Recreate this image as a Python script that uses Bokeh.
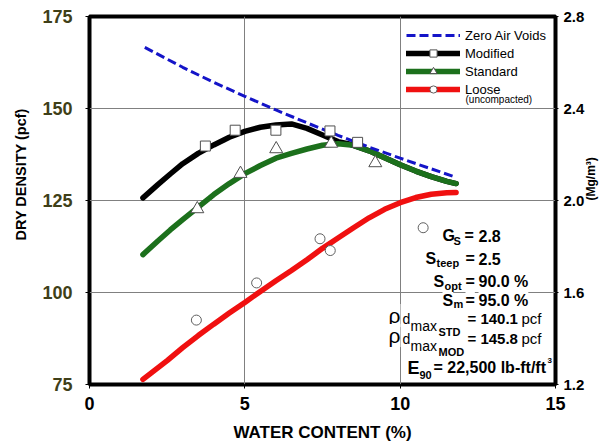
from bokeh.plotting import figure
from bokeh.models import (Range1d, LinearAxis, FixedTicker, Legend, LegendItem,
                          Label, PrintfTickFormatter)
from bokeh.embed import file_html
from bokeh.resources import INLINE
from math import pi

# ---------------- data ----------------
zav_w = [1.78, 3.0, 4.0, 5.0, 6.0, 7.0, 8.0, 9.0, 10.0, 11.0, 11.8]
zav_d = [166.6, 161.2, 157.1, 153.3, 149.6, 146.1, 142.7, 139.5, 136.5, 133.6, 131.3]

mod_w = [1.72, 2.2, 2.6, 3.0, 3.5, 4.0, 4.5, 5.0, 5.5, 6.0, 6.5, 7.0, 7.5, 8.0, 8.35,
         9.0, 9.5, 10.0, 10.5, 11.0, 11.5, 11.8]
mod_d = [125.7, 129.3, 132.2, 135.0, 137.8, 140.1, 142.2, 143.8, 144.9, 145.5, 145.8,
         144.6, 142.8, 141.0, 140.4, 138.5, 136.6, 134.7, 133.0, 131.5, 130.2, 129.6]

std_w = [1.72, 2.2, 2.6, 3.0, 3.5, 4.0, 4.5, 5.0, 5.5, 6.0, 6.5, 7.0, 7.5, 8.0, 8.5,
         9.0, 9.5, 10.0, 10.5, 11.0, 11.5, 11.8]
std_d = [110.3, 114.0, 117.0, 119.8, 123.2, 126.6, 129.6, 132.3, 134.5, 136.5, 137.8,
         139.0, 140.0, 140.4, 140.0, 138.5, 136.6, 134.7, 133.0, 131.5, 130.2, 129.6]

loose_w = [1.72, 2.5, 3.0, 3.5, 4.0, 4.5, 5.0, 5.5, 6.0, 6.5, 7.0, 7.5, 8.0, 8.5, 9.0,
           9.5, 10.0, 10.5, 11.0, 11.5, 11.8]
loose_d = [76.4, 81.5, 85.0, 88.3, 91.4, 94.4, 97.3, 100.3, 103.2, 106.0, 108.9, 112.0,
           114.8, 117.6, 120.3, 122.6, 124.4, 125.8, 126.7, 127.1, 127.2]

mod_pts_w = [3.73, 4.69, 6.0, 7.74, 8.63]
mod_pts_d = [139.8, 144.1, 144.1, 143.9, 140.8]

std_pts_w = [3.47, 4.86, 6.01, 7.78, 9.2]
std_pts_d = [122.7, 132.3, 139.0, 140.5, 135.2]

loose_pts_w = [3.44, 5.38, 7.42, 7.75, 10.74]
loose_pts_d = [92.5, 102.6, 114.6, 111.4, 117.6]

x_ticks = [0, 5, 10, 15]
y_ticks = [75, 100, 125, 150, 175]
y2_ticks = [1.2, 1.6, 2.0, 2.4, 2.8]

legend_labels = ["Zero Air Voids", "Modified", "Standard", "Loose"]

# ---------------- layout ----------------
W, H = 610, 446
FL, FR, FT, FB = 89, 555, 16, 384
FONT = "Liberation Sans"

p = figure(width=W, height=H, output_backend="svg", toolbar_location=None,
           x_range=Range1d(0, 15), y_range=Range1d(75, 175),
           min_border_left=FL, min_border_right=W - FR,
           min_border_top=FT, min_border_bottom=H - FB)
p.extra_y_ranges = {"mg": Range1d(1.2, 2.8)}

p.outline_line_color = "black"
p.outline_line_width = 4
p.background_fill_color = "white"
p.border_fill_color = "white"

def dx(px):
    return (px - FL) / (FR - FL) * 15.0

def dy(py):
    return 75.0 + (FB - py) / (FB - FT) * 100.0

# grid
p.xgrid.ticker = FixedTicker(ticks=x_ticks)
p.ygrid.ticker = FixedTicker(ticks=y_ticks)
for g in (p.xgrid[0], p.ygrid[0]):
    g.grid_line_color = "#808080"
    g.grid_line_width = 1

# x axis
xa = p.xaxis[0]
xa.ticker = FixedTicker(ticks=x_ticks)
xa.axis_label = "WATER CONTENT (%)"
xa.axis_label_text_font = FONT
xa.axis_label_text_font_size = "17px"
xa.axis_label_text_font_style = "bold"
xa.axis_label_text_color = "black"
xa.axis_label_standoff = 10
xa.major_label_text_font = FONT
xa.major_label_text_font_size = "18px"
xa.major_label_text_font_style = "bold"
xa.major_label_text_color = "black"
xa.major_label_standoff = 8
xa.axis_line_color = None
xa.major_tick_out = 4
xa.major_tick_in = 0
xa.minor_tick_line_color = None

# left axis (leading no-break spaces lift the title like the reference)
ya = p.yaxis[0]
ya.ticker = FixedTicker(ticks=y_ticks)
ya.axis_label = "\u00a0" * 13 + "DRY DENSITY (pcf)"
ya.axis_label_text_font = FONT
ya.axis_label_text_font_size = "14.5px"
ya.axis_label_text_font_style = "bold"
ya.axis_label_text_color = "black"
ya.axis_label_standoff = 10
ya.major_label_text_font = FONT
ya.major_label_text_font_size = "18px"
ya.major_label_text_font_style = "bold"
ya.major_label_text_color = "#3f3f18"
ya.major_label_standoff = 13
ya.axis_line_color = None
ya.major_tick_out = 4
ya.major_tick_in = 0
ya.minor_tick_line_color = None

# right axis
ra = LinearAxis(y_range_name="mg", ticker=FixedTicker(ticks=y2_ticks),
                formatter=PrintfTickFormatter(format="%.1f"))
ra.axis_label = "(Mg/m³)"
ra.axis_label_text_font = FONT
ra.axis_label_text_font_size = "12px"
ra.axis_label_text_font_style = "bold"
ra.axis_label_text_color = "black"
ra.axis_label_standoff = 4
try:
    ra.axis_label_orientation = pi / 2
except Exception:
    pass
ra.major_label_text_font = FONT
ra.major_label_text_font_size = "15px"
ra.major_label_text_font_style = "bold"
ra.major_label_text_color = "black"
ra.major_label_standoff = 5
ra.axis_line_color = None
ra.major_tick_out = 3
ra.major_tick_in = 0
ra.minor_tick_line_color = None
p.add_layout(ra, "right")

# ---------------- curves ----------------
r_mod = p.line(mod_w, mod_d, line_color="black", line_width=5.5, line_cap="round")
r_std = p.line(std_w, std_d, line_color="#1c701c", line_width=5.5, line_cap="round")
r_loose = p.line(loose_w, loose_d, line_color="#f01010", line_width=5.5, line_cap="round")
r_zav = p.line(zav_w, zav_d, line_color="#1414c8", line_width=3, line_dash="9 4")

s_mod = p.scatter(mod_pts_w, mod_pts_d, marker="square", size=10,
                  fill_color="white", line_color="#505050", line_width=1)
s_std = p.scatter(std_pts_w, std_pts_d, marker="triangle", size=13,
                  fill_color="white", line_color="#505050", line_width=1)
s_loose = p.scatter(loose_pts_w, loose_pts_d, marker="circle", size=10,
                    fill_color="white", line_color="#606060", line_width=1)

# ---------------- legend ----------------
ROW = 18
legend = Legend(items=[
    LegendItem(label=legend_labels[0], renderers=[r_zav]),
    LegendItem(label=legend_labels[1], renderers=[r_mod, s_mod]),
    LegendItem(label=legend_labels[2], renderers=[r_std, s_std]),
    LegendItem(label=legend_labels[3], renderers=[r_loose, s_loose]),
], location=(406 - FL, (FB - FT) - 10 - 4 * ROW))
legend.glyph_width = 54
legend.glyph_height = ROW
legend.label_height = ROW
legend.spacing = 0
legend.padding = 0
legend.margin = 0
legend.label_standoff = 5
legend.label_text_font = FONT
legend.label_text_font_size = "13px"
legend.label_text_color = "black"
legend.background_fill_alpha = 0
legend.border_line_color = None
p.add_layout(legend)

def lab(px, py, text, size, bold=True, bg=False, align="left"):
    kw = {}
    if bg:
        kw["background_fill_color"] = "white"
    l = Label(x=dx(px), y=dy(py), text=text, text_font=FONT,
              text_font_size=f"{size}px",
              text_font_style="bold" if bold else "normal",
              text_color="black", text_align=align, text_baseline="middle", **kw)
    p.add_layout(l)
    return l

lab(465, 99, "(uncompacted)", 10, bold=False)

# ---------------- parameter block ----------------
# main text (white backgrounds hide the grid like the reference text boxes)
lab(442, 235, "G", 16, bg=True)
lab(464, 235, "=", 16, bg=True)
lab(478, 235, "2.8", 16, bg=True)
lab(425, 258, "S", 16, bg=True)
lab(465, 258, "=", 16, bg=True)
lab(478, 258, "2.5", 16, bg=True)
lab(433, 281, "S", 16, bg=True)
lab(465, 281, "=", 16, bg=True)
lab(478, 281, "90.0 %", 16, bg=True)
lab(442, 300, "S", 16, bg=True)
lab(465, 300, "=", 16, bg=True)
lab(478, 300, "95.0 %", 16, bg=True)
lab(467, 318, "= 140.1", 15, bg=True)
lab(467, 338, "= 145.8", 15, bg=True)
lab(388, 315, "ρ", 21, bold=False, bg=True)
lab(388, 335, "ρ", 21, bold=False, bg=True)
lab(407, 367, "E", 18, bg=True)
lab(433, 367, "= 22,500 lb-ft/ft", 16, bg=True)

# units, subscripts, superscripts
lab(521, 318, "pcf", 15, bold=False)
lab(521, 338, "pcf", 15, bold=False)
lab(453, 240, "S", 11)
lab(436, 262, "teep", 11)
lab(444, 285, "opt", 11)
lab(453, 303, "m", 11)
lab(402, 318, "d", 14, bold=False)
lab(410, 325, "max", 14, bold=False)
lab(438, 331, "STD", 11)
lab(402, 338, "d", 14, bold=False)
lab(410, 345, "max", 14, bold=False)
lab(438, 351, "MOD", 11)
lab(419, 374, "90", 11)
lab(547, 360, "3", 8)

open("out.html", "w").write(file_html(p, INLINE))
